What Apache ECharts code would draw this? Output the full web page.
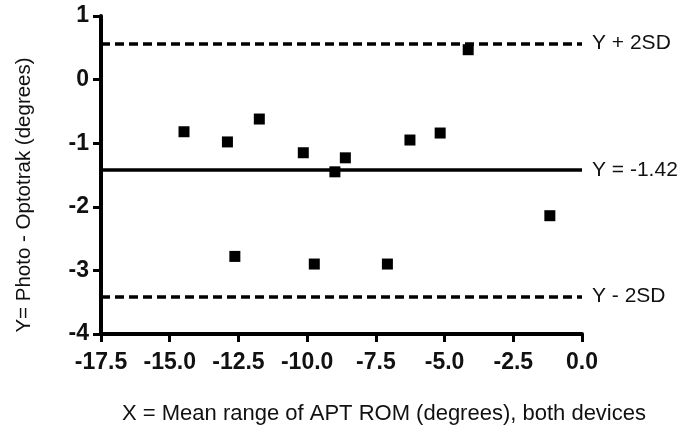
<!DOCTYPE html>
<html>
<head>
<meta charset="utf-8">
<script src="https://cdn.jsdelivr.net/npm/echarts@6/dist/echarts.min.js"></script>
<style>
  html, body { margin: 0; padding: 0; background: #fff; }
  #chart { width: 686px; height: 428px; }
</style>
</head>
<body>
<div id="chart"></div>
<script>
// Bland-Altman style agreement plot: Photo vs Optotrak
const meanRange = [-14.48, -12.9, -11.74, -12.63, -10.14, -9.74, -8.99, -8.61, -7.08, -6.26, -5.16, -4.14, -1.17];
const difference = [-0.82, -0.98, -0.62, -2.78, -1.15, -2.9, -1.45, -1.23, -2.9, -0.95, -0.84, 0.47, -2.14];

const meanDiff = -1.42;
const upperLimit = 0.57;
const lowerLimit = -3.41;
const limitLabels = ['Y + 2SD', 'Y = -1.42', 'Y - 2SD'];

const xTitle = 'X = Mean range of APT ROM (degrees), both devices';
const yTitle = 'Y= Photo - Optotrak (degrees)';

const font = '"Liberation Sans", Arial, sans-serif';
const points = meanRange.map((x, i) => [x, difference[i]]);

const chart = echarts.init(document.getElementById('chart'), null, { renderer: 'canvas' });

const axisCommon = {
  axisLine: { show: true, onZero: false, lineStyle: { color: '#000', width: 4 } },
  axisTick: { show: true, inside: false, length: 8, lineStyle: { color: '#000', width: 3 } },
  splitLine: { show: false },
  axisLabel: { color: '#111', fontFamily: font, fontWeight: 'bold', fontSize: 23 }
};

chart.setOption({
  animation: false,
  backgroundColor: '#fff',
  grid: { left: 101, right: 104, top: 16, bottom: 94, containLabel: false },
  xAxis: Object.assign({}, axisCommon, {
    type: 'value',
    min: -17.5,
    max: 0,
    interval: 2.5,
    axisLabel: Object.assign({}, axisCommon.axisLabel, {
      margin: 17,
      formatter: v => v.toFixed(1)
    })
  }),
  yAxis: Object.assign({}, axisCommon, {
    type: 'value',
    min: -4,
    max: 1,
    interval: 1,
    axisLabel: Object.assign({}, axisCommon.axisLabel, { margin: 12 })
  }),
  series: [{
    type: 'scatter',
    data: points,
    symbol: 'rect',
    symbolSize: 11,
    itemStyle: { color: '#000', opacity: 1 },
    markLine: {
      silent: true,
      symbol: ['none', 'none'],
      label: {
        show: true,
        position: 'end',
        distance: 10,
        color: '#111',
        fontFamily: font,
        fontSize: 21
      },
      data: [
        { yAxis: upperLimit, label: { formatter: limitLabels[0] },
          lineStyle: { type: [9, 5], width: 3.5, color: '#000' } },
        { yAxis: meanDiff, label: { formatter: limitLabels[1] },
          lineStyle: { type: 'solid', width: 3.5, color: '#000' } },
        { yAxis: lowerLimit, label: { formatter: limitLabels[2] },
          lineStyle: { type: [9, 5], width: 3.5, color: '#000' } }
      ]
    }
  }],
  graphic: [
    {
      type: 'text',
      x: 384, y: 414,
      style: {
        text: xTitle, fill: '#111', font: '22px ' + font,
        textAlign: 'center', textVerticalAlign: 'middle'
      }
    },
    {
      type: 'text',
      x: 24, y: 195,
      rotation: Math.PI / 2,
      style: {
        text: yTitle, fill: '#111', font: '20.5px ' + font,
        textAlign: 'center', textVerticalAlign: 'middle'
      }
    }
  ]
});
</script>
</body>
</html>
